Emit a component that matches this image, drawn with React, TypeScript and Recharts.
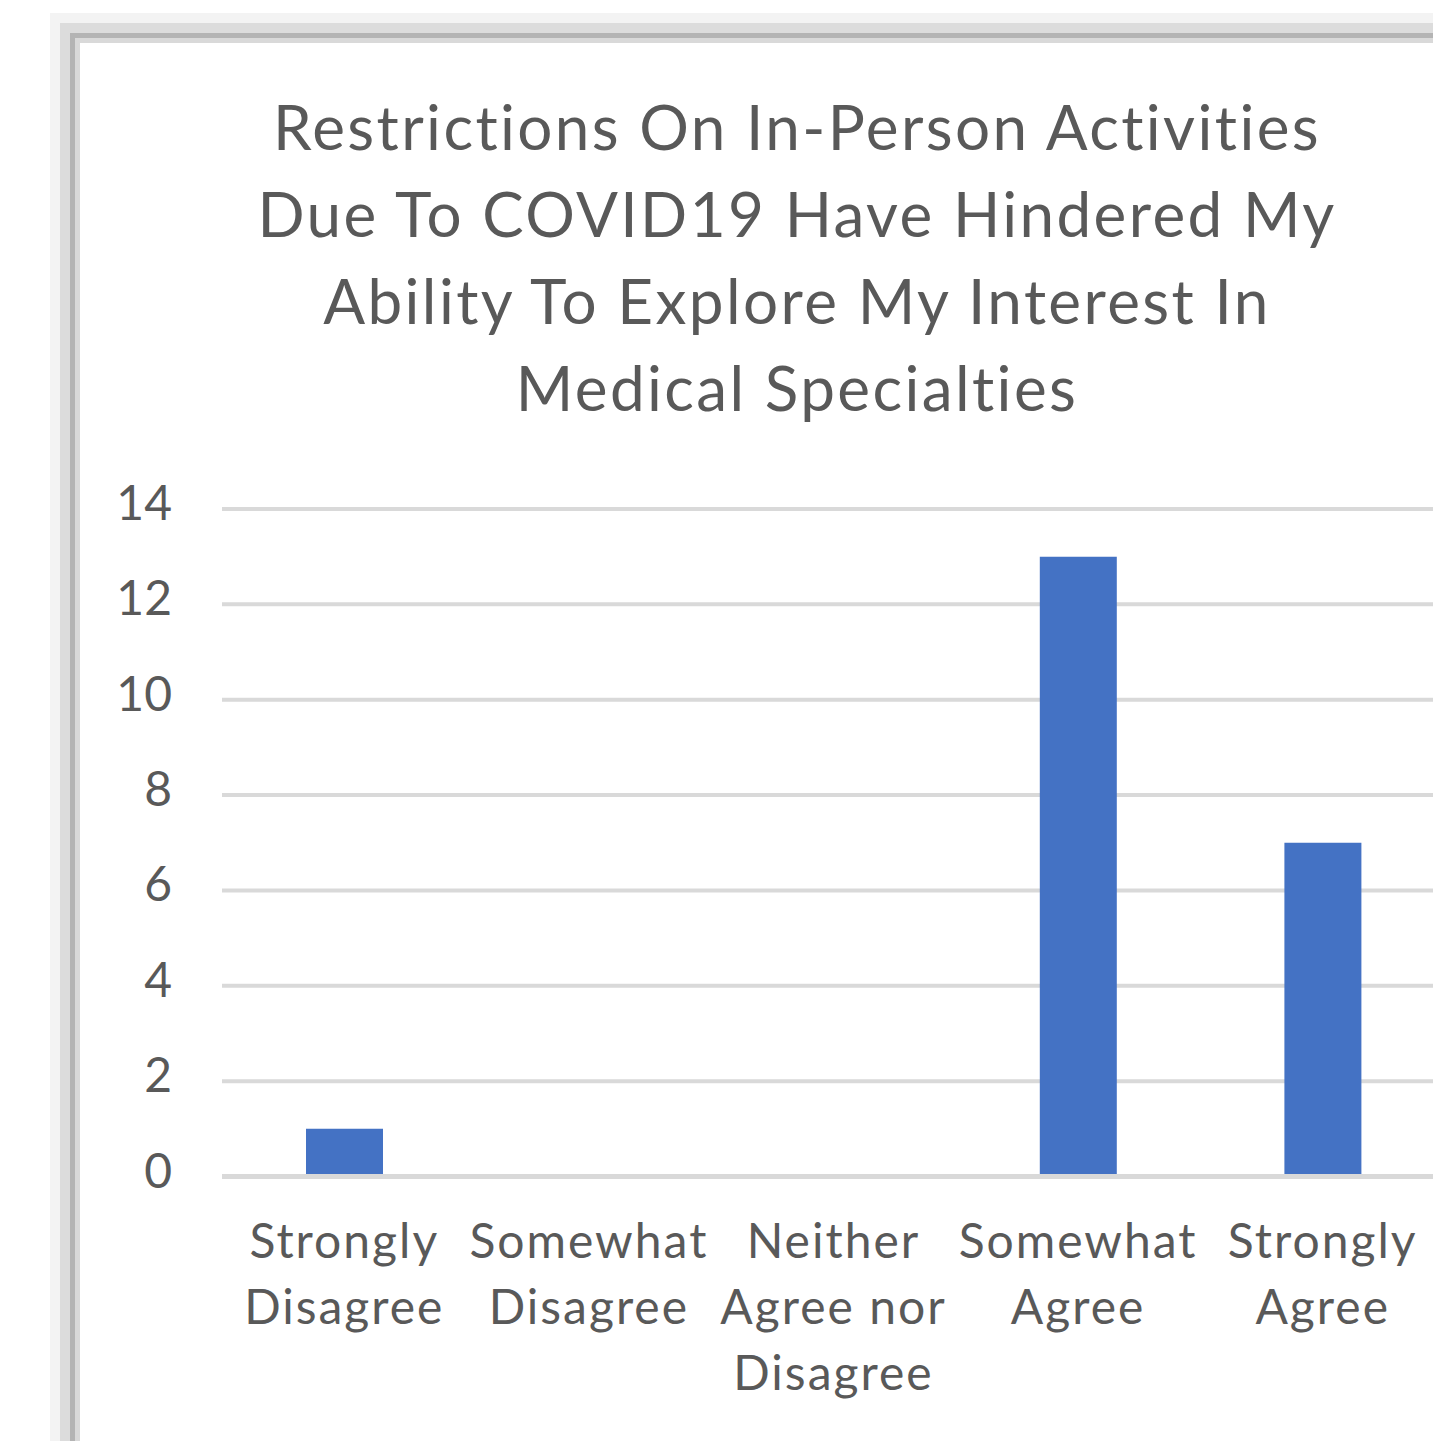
import { Bar, BarChart, CartesianGrid, XAxis, YAxis } from "recharts";

const titleLines = [
  "Restrictions On In-Person Activities",
  "Due To COVID19 Have Hindered My",
  "Ability To Explore My Interest In",
  "Medical Specialties",
];
const categories = [
  "Strongly\nDisagree",
  "Somewhat\nDisagree",
  "Neither\nAgree nor\nDisagree",
  "Somewhat\nAgree",
  "Strongly\nAgree",
];
const counts = [1, 0, 0, 13, 7];
const yTicks = [0, 2, 4, 6, 8, 10, 12, 14];

const data = categories.map((category, i) => ({ category, count: counts[i] }));

const textColor = "#595959";
const font = "Lato, 'Open Sans', sans-serif";
const noLig = { fontVariantLigatures: "none", whiteSpace: "pre" } as const;

function XTick({ x, y, payload }: any) {
  const lines = String(payload.value).split("\n");
  return (
    <text
      x={x}
      y={y}
      textAnchor="middle"
      fill={textColor}
      fontSize={48}
      fontFamily={font}
      letterSpacing={2}
      style={noLig}
    >
      {lines.map((line, i) => (
        <tspan key={i} x={x} dy={i === 0 ? 81 : 66}>
          {line}
        </tspan>
      ))}
    </text>
  );
}

function YTick({ x, y, payload }: any) {
  return (
    <text x={x} y={y + 11} textAnchor="end" fill={textColor} fontSize={48} fontFamily={font}>
      {payload.value}
    </text>
  );
}

export default function App() {
  return (
    <div style={{ position: "absolute", left: 0, top: 0, width: 1433, height: 1441, overflow: "hidden", background: "#fff" }}>
      <div
        style={{
          position: "absolute",
          left: 80,
          top: 43,
          width: 2000,
          height: 2000,
          background: "#fff",
          boxShadow: "0 0 0 5px #d9d9d9, 0 0 0 10px #b4b4b4, 0 0 0 20px #dcdcdc, 0 0 0 30px #f3f3f3",
        }}
      />
      <svg style={{ position: "absolute", left: 0, top: 0 }} width={1433} height={460}>
        {titleLines.map((line, i) => (
          <text
            key={i}
            x={797}
            y={150 + i * 87}
            textAnchor="middle"
            fill={textColor}
            fontSize={62}
            fontFamily={font}
            letterSpacing={2.4}
            style={noLig}
          >
            {line}
          </text>
        ))}
      </svg>
      <div style={{ position: "absolute", left: 0, top: 0 }}>
        <BarChart width={1445} height={1441} data={data} margin={{ top: 509, right: 0, bottom: 0, left: 0 }}>
          <CartesianGrid vertical={false} stroke="#d9d9d9" strokeWidth={4} />
          <XAxis
            dataKey="category"
            height={264.5}
            interval={0}
            axisLine={{ stroke: "#d9d9d9", strokeWidth: 5 }}
            tickLine={false}
            tickSize={0}
            tickMargin={0}
            tick={<XTick />}
          />
          <YAxis
            width={222}
            domain={[0, 14]}
            ticks={yTicks}
            interval={0}
            axisLine={false}
            tickLine={false}
            tickSize={0}
            tickMargin={50}
            tick={<YTick />}
          />
          <Bar dataKey="count" fill="#4472c4" barSize={77} isAnimationActive={false} />
        </BarChart>
      </div>
    </div>
  );
}
